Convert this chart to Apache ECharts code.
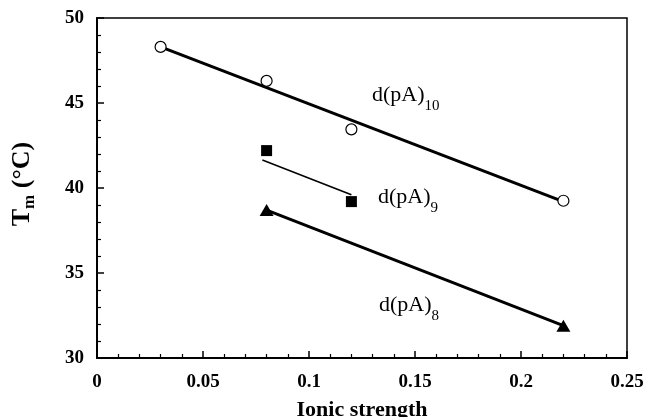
<!DOCTYPE html>
<html>
<head>
<meta charset="utf-8">
<script src="https://cdn.jsdelivr.net/npm/echarts@6/dist/echarts.min.js"></script>
<style>
  html, body { margin: 0; padding: 0; background: #fff; }
  #chart { width: 647px; height: 417px; }
</style>
</head>
<body>
<div id="chart"></div>
<script>
// measured points (ionic strength, Tm)
const pA10 = [[0.03, 48.3], [0.08, 46.3], [0.12, 43.45], [0.22, 39.25]]
const pA9 = [[0.08, 42.2], [0.12, 39.2]]
const pA8 = [[0.08, 38.7], [0.22, 31.9]]
// fitted lines as drawn
const fit10 = [[0.03, 48.3], [0.22, 39.2]]
const fit9 = [[0.078, 41.65], [0.12, 39.6]]
const fit8 = [[0.08, 38.7], [0.22, 31.9]]

const xTicks = [0, 0.05, 0.1, 0.15, 0.2, 0.25]
const yTicks = [30, 35, 40, 45, 50]

const chart = echarts.init(document.getElementById('chart'))
const serif = '"Liberation Serif", "DejaVu Serif", serif'

function lineSeries(data, width) {
  return {
    type: 'line',
    data: data,
    symbol: 'none',
    silent: true,
    z: 2,
    lineStyle: {color: '#000', width: width}
  }
}

function label(x, y, main, sub) {
  return {
    type: 'text',
    left: x,
    top: y - 19,
    style: {
      text: '{a|' + main + '}{s|' + sub + '}',
      fill: '#000',
      rich: {
        a: {fontFamily: serif, fontSize: 22, lineHeight: 22, fill: '#000'},
        s: {fontFamily: serif, fontSize: 15, lineHeight: 15, padding: [23, 0, 0, 0], fill: '#000'}
      }
    }
  }
}

const option = {
  animation: false,
  grid: {
    left: 97,
    right: 20,
    top: 18,
    bottom: 59,
    outerBoundsMode: 'none',
    show: true,
    borderColor: '#000',
    borderWidth: 1.5
  },
  xAxis: {
    type: 'value',
    min: 0,
    max: 0.25,
    interval: 0.05,
    name: 'Ionic strength',
    nameLocation: 'middle',
    nameGap: 41,
    nameTextStyle: {fontFamily: serif, fontSize: 22, fontWeight: 'bold', color: '#000'},
    axisLine: {show: true, onZero: false, lineStyle: {color: '#000', width: 2}},
    axisTick: {show: true, inside: true, length: 7, lineStyle: {color: '#000', width: 1.5}},
    minorTick: {show: true, splitNumber: 5, length: 4, lineStyle: {color: '#000', width: 1.2}},
    splitLine: {show: false},
    axisLabel: {
      margin: 15,
      fontFamily: serif, fontSize: 19, fontWeight: 'bold', color: '#000',
      formatter: v => xTicks.includes(+v.toFixed(2)) ? String(+v.toFixed(2)) : ''
    }
  },
  yAxis: {
    type: 'value',
    min: 30,
    max: 50,
    interval: 5,
    name: '{t|T}{m|m}{t| (°C)}',
    nameLocation: 'middle',
    nameRotate: 90,
    nameGap: 62,
    nameTextStyle: {
      color: '#000',
      padding: [0, 0, 0, 8],
      rich: {
        t: {fontFamily: serif, fontSize: 26, fontWeight: 'bold', lineHeight: 26, color: '#000'},
        m: {fontFamily: serif, fontSize: 17, fontWeight: 'bold', lineHeight: 17, padding: [16, 0, 0, 0], color: '#000'}
      }
    },
    axisLine: {show: true, onZero: false, lineStyle: {color: '#000', width: 2}},
    axisTick: {show: true, inside: true, length: 7, lineStyle: {color: '#000', width: 1.5}},
    minorTick: {show: true, splitNumber: 5, length: 4, lineStyle: {color: '#000', width: 1.2}},
    splitLine: {show: false},
    axisLabel: {
      margin: 13,
      fontFamily: serif, fontSize: 19, fontWeight: 'bold', color: '#000',
      formatter: v => yTicks.includes(v) ? String(v) : ''
    }
  },
  series: [
    lineSeries(fit10, 3),
    lineSeries(fit9, 1.5),
    lineSeries(fit8, 3),
    {
      type: 'scatter',
      data: pA10,
      symbol: 'circle',
      symbolSize: 11,
      z: 3,
      itemStyle: {color: '#fff', borderColor: '#000', borderWidth: 1.2, opacity: 1}
    },
    {
      type: 'scatter',
      data: pA9,
      symbol: 'rect',
      symbolSize: 11,
      z: 3,
      itemStyle: {color: '#000', opacity: 1}
    },
    {
      type: 'scatter',
      data: pA8,
      symbol: 'triangle',
      symbolSize: [14, 12],
      z: 3,
      itemStyle: {color: '#000', opacity: 1}
    }
  ],
  graphic: [
    label(372, 95, 'd(pA)', '10'),
    label(378, 197, 'd(pA)', '9'),
    label(379, 305, 'd(pA)', '8')
  ]
}
chart.setOption(option)
</script>
</body>
</html>
